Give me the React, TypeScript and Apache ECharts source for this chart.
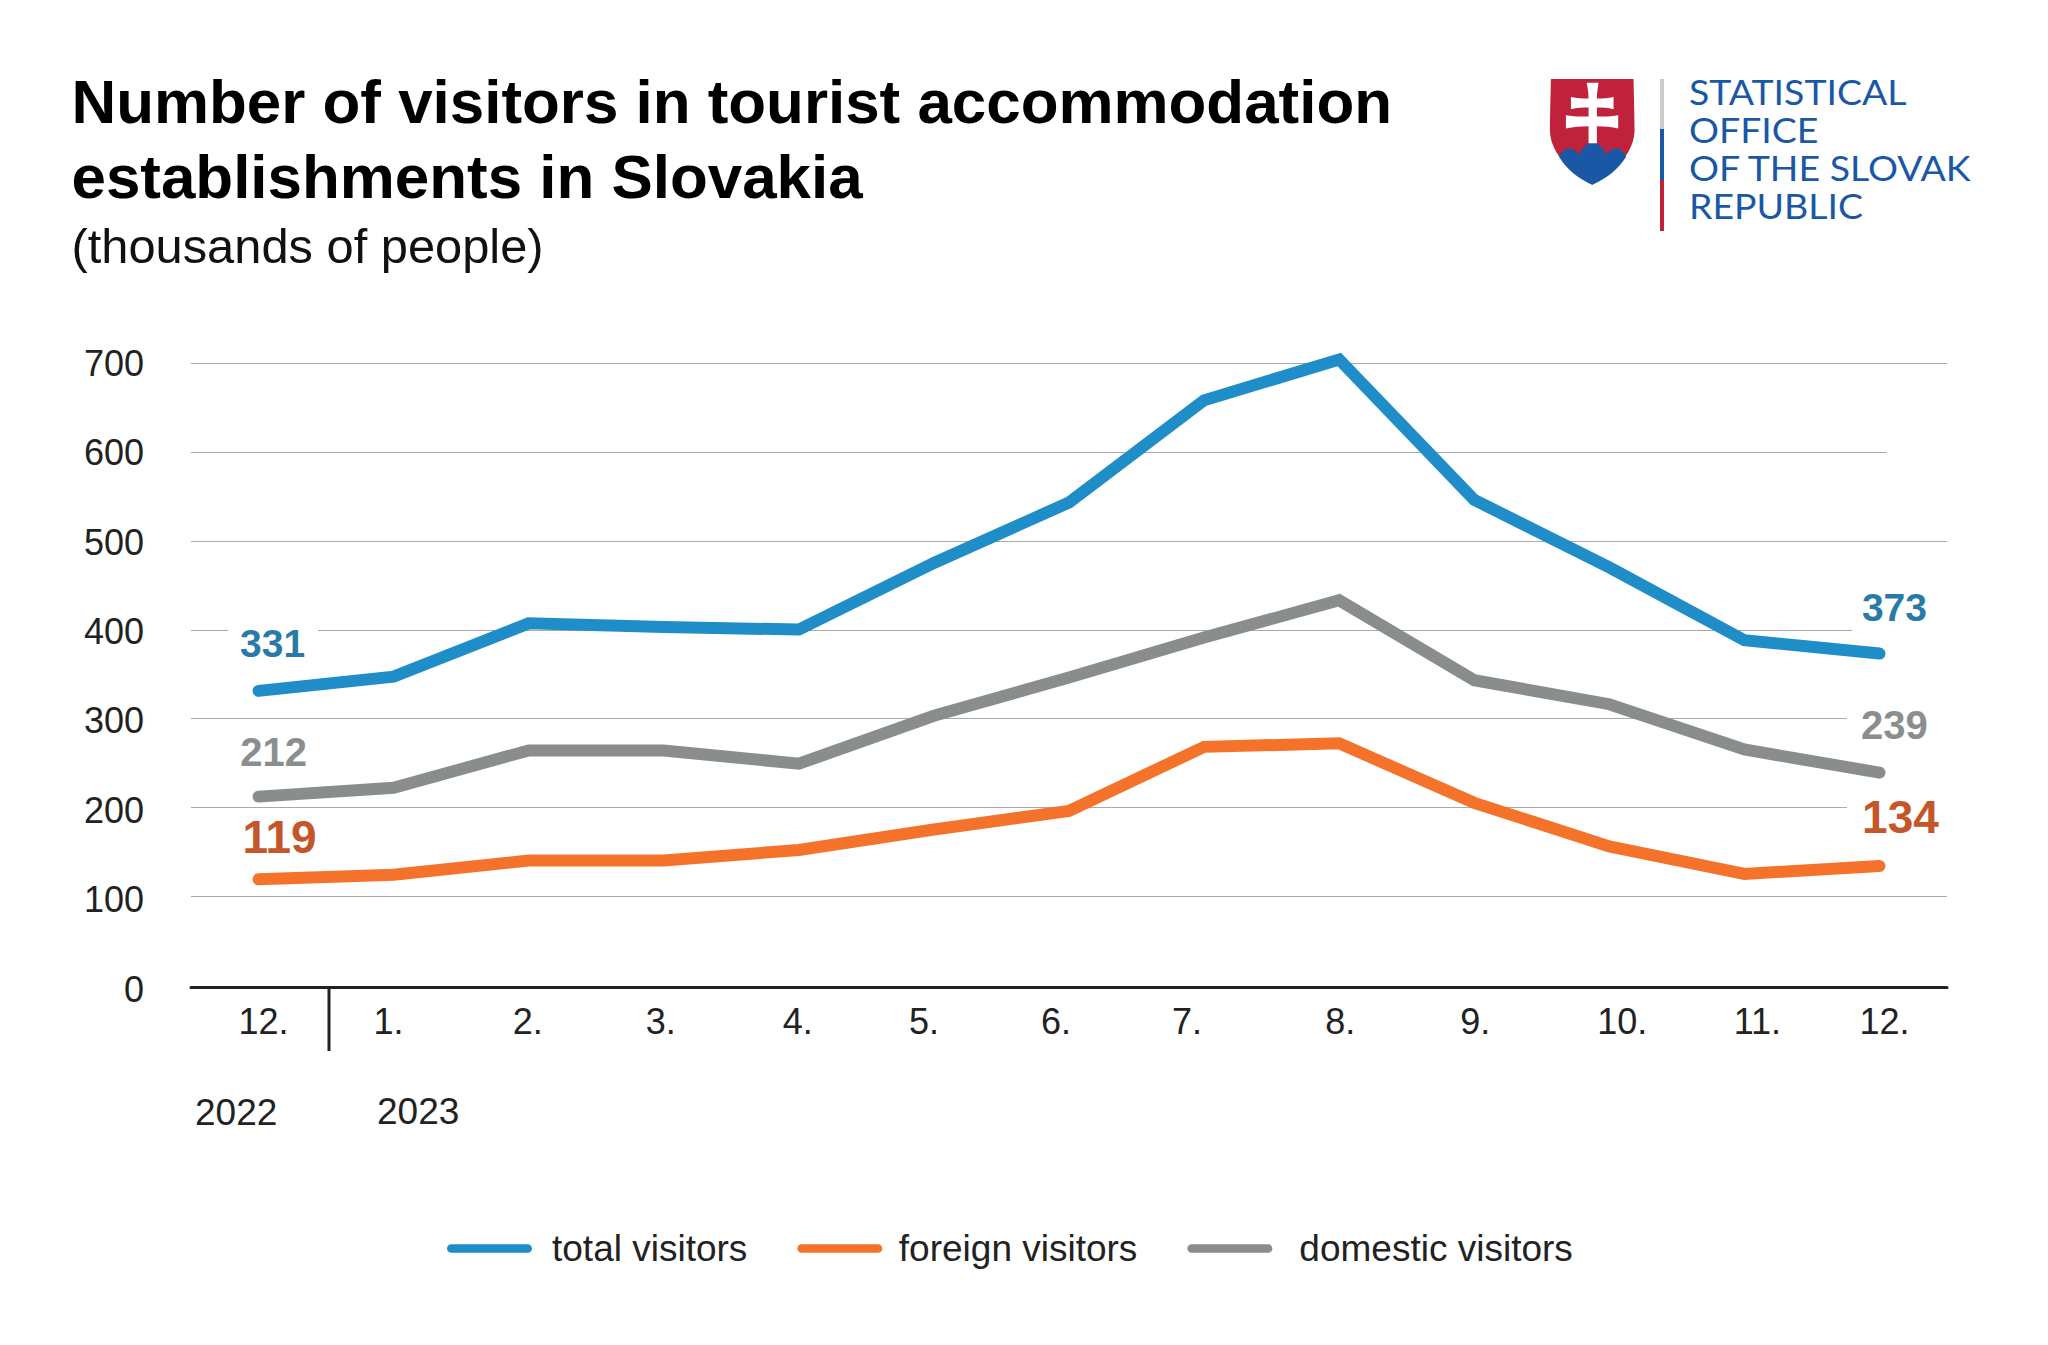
import React, { useEffect, useRef } from "react";
import * as echarts from "echarts";

const months = ["12.", "1.", "2.", "3.", "4.", "5.", "6.", "7.", "8.", "9.", "10.", "11.", "12."];
const totalVisitors = [331, 347, 407, 403, 400, 475, 543, 658, 704, 546, 470, 388, 373];
const foreignVisitors = [119, 124, 140, 140, 152, 175, 196, 268, 272, 205, 156, 125, 134];
const domesticVisitors = [212, 222, 264, 264, 249, 303, 346, 391, 433, 343, 316, 265, 239];
const yTicks = [0, 100, 200, 300, 400, 500, 600, 700];

const FONT = "'Liberation Sans', Arial, sans-serif";
const monthShift = [5, -5, -1, -3, -1, -10, -13, -17, 1, 1, 13, 13, 5];
const gridSegments: [number, number, number][] = [
  [700, 191, 1947], [600, 191, 1887], [500, 191, 1947],
  [400, 191, 228], [400, 318, 1852], [300, 191, 1847], [200, 191, 1847], [100, 191, 1947],
];

echarts.graphic.registerShape("skShield", echarts.graphic.extendPath("M153 87 L401 87 C402 130 404 200 404 240 C404 310 340 370 277 405 C215 370 150 310 150 240 C150 200 152 130 153 87 Z", {}));
echarts.graphic.registerShape("skHills", echarts.graphic.extendPath("M177 320 C185 300 205 292 220 298 C228 302 235 310 240 314 C245 295 260 278 278 277 C296 278 312 295 317 314 C322 308 330 300 345 296 C360 294 372 305 379 320 C355 360 320 385 277 405 C235 385 200 360 177 320 Z", {}));
echarts.graphic.registerShape("skCross", echarts.graphic.extendPath("M260 98 L296 98 C293 115 291 130 291 146 C310 146 325 145 341 141 L341 178 C325 174 310 173 291 173 L291 200 C315 200 335 200 355 196 L355 236 C335 231 315 229 291 229 L291 280 L266 280 L266 229 C242 229 220 231 198 236 L198 196 C220 200 242 200 266 200 L266 173 C247 173 230 174 213 178 L213 141 C230 145 247 146 266 146 C266 130 264 115 260 98 Z", {}));

const endLabel = (fontSize: number, color: string, offset: number[]) => ({
  show: true, position: "top", formatter: "{c}", offset, color, fontFamily: FONT, fontWeight: "bold", fontSize,
});
const withEnds = (vals: number[], first: any, last: any) =>
  vals.map((v, i) => (i === 0 ? { value: v, label: first } : i === vals.length - 1 ? { value: v, label: last } : v));

const lineSeries = (name: string, color: string, data: any[]) => ({
  name, type: "line", data, color, clip: false, z: 5,
  symbol: "circle", symbolSize: 1, showSymbol: true, showAllSymbol: true,
  lineStyle: { width: 12, color, cap: "round", join: "miter" }, itemStyle: { color },
  emphasis: { disabled: true },
});

const logoLine = (text: string, y: number) => ({
  type: "text", x: 1689, y, scaleX: 1.07, style: { text, fill: "#1a58a6", font: "35px Lato", verticalAlign: "top" },
});

export default function App() {
  const ref = useRef<HTMLDivElement>(null);
  useEffect(() => {
    document.body.style.margin = "0";
    const chart = echarts.init(ref.current!, undefined, { renderer: "svg" });
    chart.setOption({
      animation: false,
      backgroundColor: "#fff",
      title: {
        text: "Number of visitors in tourist accommodation\nestablishments in Slovakia",
        subtext: "(thousands of people)",
        left: 66.5, top: 59, itemGap: 7,
        textStyle: { fontFamily: FONT, fontWeight: "bold", fontSize: 61.9, lineHeight: 75, color: "#000" },
        subtextStyle: { fontFamily: FONT, fontSize: 48.8, color: "#111" },
      },
      grid: { left: 191, right: 101, top: 363, bottom: 360 },
      legend: {
        left: 442, top: 1225, itemGap: 50, itemWidth: 85, itemHeight: 10,
        icon: "path://M5 0H95A5 5 0 0 1 95 10H5A5 5 0 0 1 5 0Z",
        data: [
          { name: "total visitors", textStyle: { padding: [0, 0, 0, 15] } },
          { name: "foreign visitors", textStyle: { padding: [0, 0, 0, 11.5] } },
          { name: "domestic visitors", textStyle: { padding: [0, 0, 0, 22] } },
        ],
        textStyle: { fontFamily: FONT, fontSize: 37, color: "#222" },
      },
      xAxis: {
        type: "category", data: months, boundaryGap: true, offset: 2,
        axisLine: { show: true, onZero: false, lineStyle: { color: "#222", width: 3 } },
        axisTick: { show: false },
        splitLine: { show: false },
        axisLabel: {
          interval: 0, margin: 16, fontFamily: FONT, fontSize: 36, color: "#222",
          formatter: (v: string, i: number) => `{m${i}|${v}}`,
          rich: Object.fromEntries(monthShift.map((s, i) => [`m${i}`, {
            fontFamily: FONT, fontSize: 36, color: "#222",
            padding: s >= 0 ? [0, 0, 0, 2 * s] : [0, -2 * s, 0, 0],
          }])),
        },
      },
      yAxis: {
        type: "value", min: yTicks[0], max: yTicks[yTicks.length - 1], interval: 100,
        axisLine: { show: false }, axisTick: { show: false }, splitLine: { show: false },
        axisLabel: {
          margin: 47, fontFamily: FONT, fontSize: 36, color: "#222",
          formatter: (v: number) => `{y${v}|${v}}`,
          rich: Object.fromEntries(yTicks.map((v) => [`y${v}`, {
            fontFamily: FONT, fontSize: 36, color: "#222",
            padding: [(700 - v) / 100 + 1, 0, 0, 0],
          }])),
        },
      },
      series: [
        {
          type: "custom", name: "grid", silent: true, clip: false, z: 1,
          data: gridSegments,
          encode: { x: 1, y: 0 },
          renderItem: (_: any, api: any) => {
            const y = Math.round(api.coord([0, api.value(0)])[1]) + 0.5;
            return { type: "line", shape: { x1: api.value(1), y1: y, x2: api.value(2), y2: y }, style: { stroke: "#aaaaaa", lineWidth: 1 } };
          },
        },
        lineSeries("total visitors", "#1e8dc8", withEnds(totalVisitors, endLabel(39, "#2a7aa8", [14, -22]), endLabel(39, "#2a7aa8", [15, -21]))),
        lineSeries("foreign visitors", "#f5722b", withEnds(foreignVisitors, endLabel(46, "#c4562a", [21, -14]), endLabel(46, "#c4562a", [21, -20]))),
        lineSeries("domestic visitors", "#8a8d8d", withEnds(domesticVisitors, endLabel(40, "#8b8e8e", [15, -19]), endLabel(40, "#8b8e8e", [15, -22]))),
      ],
      graphic: [
        { type: "line", shape: { x1: 329, y1: 987, x2: 329, y2: 1051 }, style: { stroke: "#222", lineWidth: 3 } },
        { type: "text", x: 195, y: 1112, style: { text: "2022", fill: "#222", font: `37px ${FONT}`, verticalAlign: "middle" } },
        { type: "text", x: 377, y: 1111, style: { text: "2023", fill: "#222", font: `37px ${FONT}`, verticalAlign: "middle" } },
        {
          type: "group", x: 1500, y: 50, scaleX: 1 / 3, scaleY: 1 / 3,
          children: [
            { type: "skShield", style: { fill: "#c1223b" } },
            { type: "skHills", style: { fill: "#1a58a6" } },
            { type: "skCross", style: { fill: "#fff" } },
          ],
        },
        { type: "rect", shape: { x: 1660, y: 79, width: 4, height: 50 }, style: { fill: "#c9cccc" } },
        { type: "rect", shape: { x: 1660, y: 129, width: 4, height: 51 }, style: { fill: "#1a58a6" } },
        { type: "rect", shape: { x: 1660, y: 180, width: 4, height: 51 }, style: { fill: "#c1223b" } },
        logoLine("STATISTICAL", 74),
        logoLine("OFFICE", 112),
        logoLine("OF THE SLOVAK", 150),
        logoLine("REPUBLIC", 188),
      ],
    });
    return () => chart.dispose();
  }, []);
  return <div ref={ref} style={{ position: "absolute", left: 0, top: 0, width: 2048, height: 1345 }} />;
}
